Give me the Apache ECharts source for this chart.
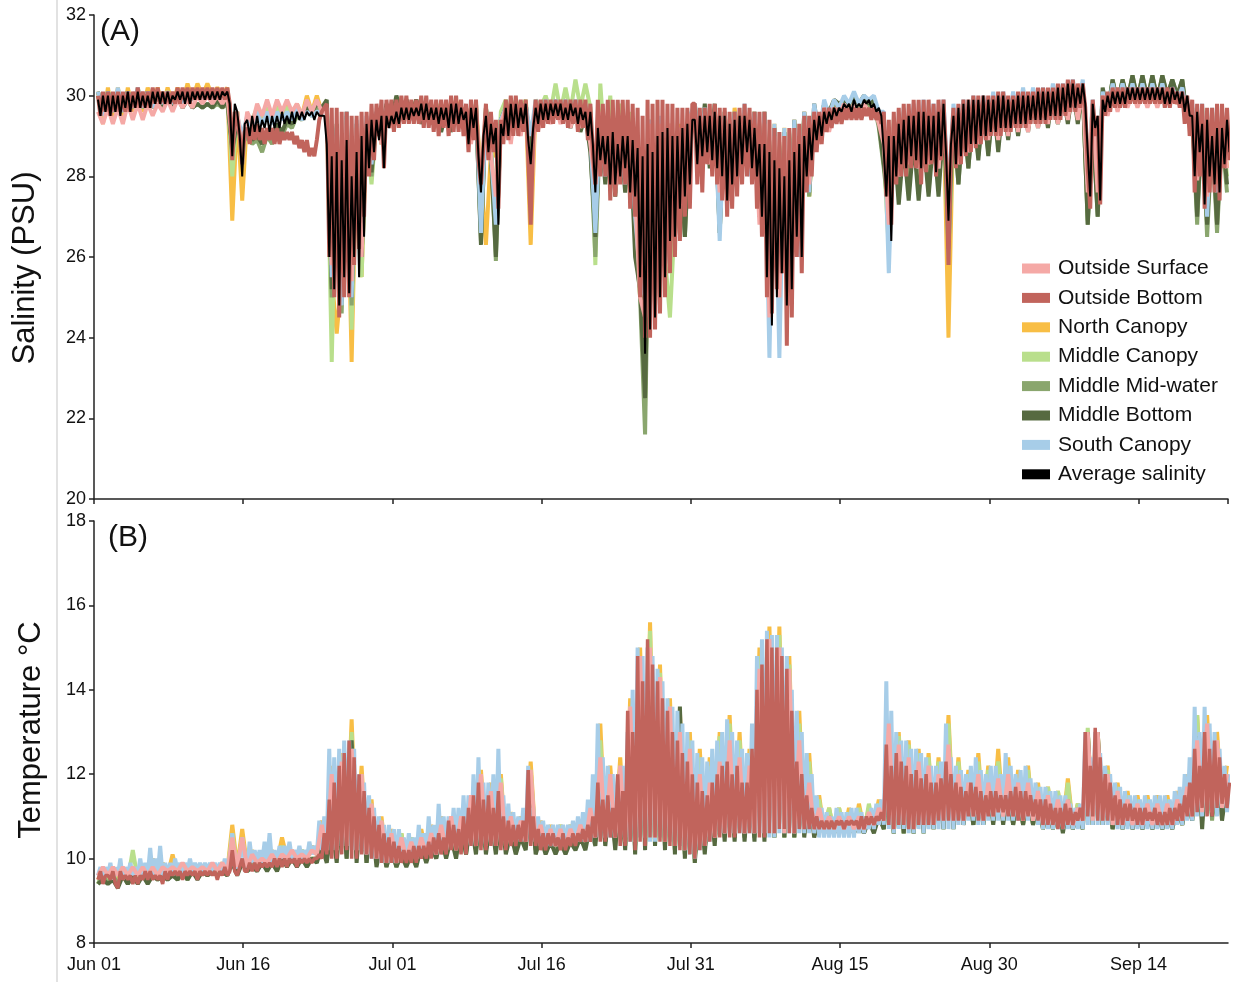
<!DOCTYPE html>
<html>
<head>
<meta charset="utf-8">
<script src="https://cdn.jsdelivr.net/npm/echarts@6/dist/echarts.min.js"></script>
<style>
  html, body { margin: 0; padding: 0; background: #fff; }
  #chart { width: 1233px; height: 982px; }
</style>
</head>
<body>
<div id="chart"></div>
<script>
// time in days since Jun 01; first sample and sampling steps
var T0 = 0.4;
var QUARTER = 0.25, HALF = 0.5;

var xTickLabels = ['Jun 01', 'Jun 16', 'Jul 01', 'Jul 16', 'Jul 31', 'Aug 15', 'Aug 30', 'Sep 14'];
var names = ['Outside Surface', 'Outside Bottom', 'North Canopy', 'Middle Canopy',
             'Middle Mid-water', 'Middle Bottom', 'South Canopy', 'Average salinity'];
var colors = {
    'Outside Surface': '#F5A9A6',
    'Outside Bottom': '#C1645C',
    'North Canopy': '#F8BE45',
    'Middle Canopy': '#B9DF8C',
    'Middle Mid-water': '#8AA66E',
    'Middle Bottom': '#566A40',
    'South Canopy': '#A7CDE8',
    'Average salinity': '#000000'
};

// ---- salinity (PSU), 6-hourly ----
var salAverage = [
 29.9,29.5,30.0,29.6, 30.0,29.5,30.0,29.6, 30.0,29.5,30.0,29.7, 30.1,29.6,30.0,29.7, 30.1,29.7,30.0,29.7,
 30.0,29.7,30.1,29.8, 30.1,29.8,30.1,29.8, 30.1,29.8,30.0,29.9, 30.1,29.9,30.1,29.8, 30.1,29.8,30.1,29.9,
 30.1,29.9,30.1,29.9, 30.1,29.9,30.1,29.9, 30.1,29.9,30.1,30.0, 30.1,29.8,28.5,29.8, 29.6,29.0,28.0,29.3,
 29.4,29.0,29.5,29.1, 29.5,29.1,29.4,29.2, 29.5,29.1,29.5,29.2, 29.5,29.2,29.6,29.3, 29.5,29.3,29.6,29.3,
 29.6,29.4,29.6,29.4, 29.6,29.5,29.6,29.4, 29.6,29.5,29.5,29.5, 28.8,26.0,28.5,25.2, 28.6,24.8,28.4,25.5,
 28.9,25.1,28.0,26.0, 28.6,25.5,29.0,26.5, 29.3,28.2,29.4,28.6, 29.4,28.9,29.5,28.2, 29.5,29.2,29.5,29.3,
 29.6,29.3,29.7,29.4, 29.7,29.4,29.7,29.5, 29.7,29.5,29.8,29.4, 29.8,29.4,29.7,29.4, 29.7,29.3,29.7,29.4,
 29.7,29.2,29.8,29.3, 29.8,29.3,29.7,29.4, 29.6,28.8,29.7,29.2, 29.7,28.5,27.6,29.0, 29.5,28.6,29.3,28.8,
 29.2,26.8,29.3,29.0, 29.7,29.0,29.8,29.2, 29.8,29.2,29.7,29.3, 29.8,28.9,28.3,29.2, 29.7,29.3,29.8,29.4,
 29.8,29.4,29.8,29.5, 29.8,29.5,29.8,29.4, 29.7,29.4,29.8,29.5, 29.7,29.3,29.7,29.4, 29.6,29.0,29.6,28.8,
 27.6,29.2,28.4,29.0, 28.3,29.0,27.8,29.1, 27.8,28.8,28.0,29.0, 28.2,29.0,27.6,28.9, 27.5,28.7,25.5,28.5,
 23.6,28.8,24.2,28.6, 24.5,29.0,25.0,29.1, 25.5,29.2,26.4,29.0, 26.5,29.0,27.2,29.2, 27.5,29.3,27.8,29.4,
 29.4,28.3,29.5,28.5, 29.5,28.6,29.5,28.4, 29.6,28.2,29.5,28.0, 29.5,27.4,29.3,27.8, 29.4,28.0,29.5,28.3,
 29.5,28.6,29.4,28.2, 29.2,28.0,28.8,27.0, 28.8,25.5,28.6,24.3, 28.4,25.0,28.2,25.6, 28.0,24.8,28.4,25.2,
 28.6,26.5,28.8,26.0, 29.0,28.0,29.2,28.4, 29.4,28.9,29.5,29.0, 29.6,29.3,29.6,29.4, 29.7,29.5,29.7,29.6,
 29.8,29.7,29.8,29.6, 29.9,29.7,29.8,29.7, 29.9,29.8,29.9,29.7, 29.8,29.6,29.7,29.5, 28.6,27.5,29.0,26.4,
 29.0,28.0,29.3,28.3, 29.4,28.2,29.5,28.5, 29.5,28.4,29.6,28.2, 29.6,28.3,29.5,28.4, 29.5,28.1,29.6,28.5,
 29.8,28.6,26.9,28.8, 29.5,28.3,29.7,28.5, 29.8,28.6,29.9,28.8, 29.9,28.8,29.9,29.0, 30.0,29.0,29.9,29.1,
 29.9,29.1,30.0,29.2, 30.0,29.2,29.9,29.2, 29.9,29.3,30.0,29.3, 30.0,29.3,30.0,29.4, 30.0,29.4,30.1,29.4,
 30.1,29.4,30.1,29.5, 30.1,29.5,30.2,29.5, 30.2,29.6,30.3,29.7, 30.3,29.7,30.2,29.8, 30.3,29.8,28.6,27.5,
 29.8,29.2,29.5,27.4, 29.9,29.6,30.0,29.7, 30.1,29.8,30.1,29.8, 30.1,29.8,30.2,29.9, 30.2,29.9,30.2,29.9,
 30.2,29.9,30.2,29.9, 30.2,29.9,30.2,29.9, 30.2,29.8,30.1,29.8, 30.2,29.9,30.1,29.8, 30.1,29.6,30.0,29.5,
 29.5,28.0,29.6,28.6, 29.3,27.3,29.4,28.0, 29.0,27.8,29.2,27.6, 29.2,28.3,29.4,28.6
];
var salOutsideBottom = [
 30.0,29.5,30.1,29.6, 30.1,29.5,30.1,29.6, 30.1,29.6,30.1,29.6, 30.1,29.6,30.1,29.7, 30.2,29.7,30.1,29.7,
 30.1,29.7,30.2,29.8, 30.2,29.8,30.1,29.8, 30.1,29.8,30.1,29.8, 30.2,29.8,30.2,29.9, 30.2,29.8,30.2,29.9,
 30.2,29.9,30.2,29.9, 30.2,29.9,30.2,29.9, 30.2,29.9,30.2,29.9, 30.2,29.8,28.4,29.6, 29.4,29.0,28.3,29.1,
 29.2,28.8,29.3,28.9, 29.3,28.9,29.2,28.8, 29.2,28.9,29.2,28.8, 29.2,28.8,29.1,28.9, 29.1,28.9,29.1,28.8,
 29.0,28.7,28.9,28.6, 28.9,28.5,28.7,28.5, 28.9,29.4,29.6,29.7, 29.8,26.0,29.7,25.0, 29.7,24.5,29.6,25.0,
 29.6,25.0,29.5,25.8, 29.5,26.2,29.6,27.0, 29.6,28.0,29.8,28.4, 29.8,29.0,29.9,28.2, 29.9,29.2,29.9,29.1,
 29.9,29.2,30.0,29.3, 30.0,29.3,29.9,29.3, 29.9,29.3,30.0,29.2, 30.0,29.2,29.9,29.1, 29.9,29.0,29.9,29.2,
 29.9,29.0,30.0,29.1, 30.0,29.1,29.9,29.0, 29.8,28.6,29.9,28.9, 29.9,28.4,27.8,28.8, 29.8,28.4,29.6,28.6,
 29.4,27.2,29.4,28.8, 29.9,28.9,30.0,29.0, 30.0,29.0,29.9,29.1, 29.9,28.5,26.8,29.0, 29.9,29.1,29.9,29.2,
 29.9,29.3,29.9,29.3, 29.9,29.4,29.9,29.3, 29.9,29.2,29.9,29.3, 29.9,29.1,29.9,29.2, 29.9,28.9,29.8,28.6,
 27.8,29.9,28.0,29.8, 28.0,29.9,27.4,29.9, 27.5,29.9,27.8,29.9, 27.8,29.9,27.2,29.8, 27.0,29.7,25.0,29.5,
 24.0,29.9,24.0,29.8, 24.2,29.9,24.6,29.9, 25.0,29.8,25.6,29.8, 26.0,29.7,26.4,29.7, 27.0,29.7,27.2,29.8,
 29.8,27.8,29.7,27.6, 29.7,28.3,29.8,28.0, 29.8,27.8,29.7,27.4, 29.7,27.0,29.6,27.2, 29.6,27.5,29.7,27.8,
 29.8,28.0,29.7,27.8, 29.6,27.2,29.6,26.5, 29.6,25.0,29.4,24.6, 29.2,25.2,29.1,25.6, 29.0,23.8,29.2,24.5,
 29.2,26.0,29.3,25.6, 29.5,27.6,29.5,28.0, 29.6,28.6,29.6,28.8, 29.7,29.1,29.7,29.2, 29.7,29.3,29.7,29.3,
 29.7,29.4,29.7,29.4, 29.7,29.4,29.7,29.4, 29.7,29.5,29.7,29.4, 29.7,29.4,29.6,29.3, 29.6,27.5,29.4,26.8,
 29.6,27.8,29.7,28.0, 29.8,28.0,29.8,28.2, 29.9,28.2,29.9,27.8, 29.9,28.1,29.9,28.3, 29.8,28.0,29.9,28.4,
 29.9,28.5,25.8,28.6, 29.7,28.2,29.8,28.3, 29.9,28.5,29.9,28.6, 30.0,28.7,30.0,28.8, 30.0,28.9,30.0,29.0,
 30.0,29.0,30.1,29.0, 30.1,29.1,30.0,29.1, 30.0,29.2,30.1,29.2, 30.1,29.2,30.1,29.3, 30.1,29.3,30.2,29.3,
 30.2,29.3,30.2,29.4, 30.2,29.4,30.3,29.4, 30.3,29.5,30.4,29.6, 30.4,29.6,30.3,29.7, 30.3,29.7,28.2,27.2,
 29.9,29.0,29.5,27.3, 30.0,29.5,30.1,29.6, 30.2,29.7,30.2,29.7, 30.2,29.7,30.2,29.8, 30.2,29.8,30.2,29.8,
 30.2,29.8,30.2,29.8, 30.2,29.8,30.2,29.8, 30.2,29.7,30.2,29.7, 30.2,29.8,30.1,29.7, 30.1,29.3,30.0,29.0,
 29.9,27.6,29.8,28.0, 29.8,27.2,29.7,27.6, 29.7,27.6,29.8,27.4, 29.8,28.2,29.7,28.4
];
// ---- salinity, 12-hourly ----
var salSouthCanopy = [
 30.1,29.5, 30.1,29.6, 30.2,29.6, 30.1,29.7, 30.2,29.7, 30.1,29.7, 30.1,29.8, 30.1,29.8, 30.1,29.8, 30.1,29.9,
 30.1,29.9, 30.1,29.9, 30.1,29.9, 30.1,29.0, 29.5,29.0, 29.5,29.2, 29.6,29.3, 29.6,29.3, 29.6,29.4, 29.6,29.4,
 29.7,29.4, 29.6,29.5, 29.6,29.6, 29.7,25.5, 29.2,24.8, 29.6,25.0, 29.4,26.5, 29.5,28.3, 29.6,29.0, 29.7,29.3,
 29.7,29.4, 29.8,29.4, 29.8,29.4, 29.8,29.4, 29.7,29.3, 29.7,29.3, 29.8,29.5, 29.7,29.0, 29.8,26.6, 29.6,28.6,
 26.8,29.4, 29.7,29.2, 29.8,29.4, 29.8,29.0, 29.9,29.4, 29.9,29.5, 29.9,29.5, 29.9,29.4, 29.9,29.4, 29.8,29.0,
 26.6,29.5, 28.0,29.4, 27.8,29.3, 27.8,29.2, 27.0,25.5, 25.0,29.4, 25.0,29.5, 25.8,29.3, 27.0,29.2, 27.8,29.5,
 29.8,28.5, 29.7,28.6, 29.6,26.4, 29.6,27.6, 29.6,28.0, 29.8,28.0, 29.6,27.0, 29.6,23.5, 29.3,23.5, 29.2,24.8,
 29.4,26.0, 29.6,27.6, 29.8,29.0, 29.9,29.5, 29.9,29.7, 30.0,29.8, 30.1,29.8, 30.0,29.9, 30.0,29.6, 29.6,25.6,
 29.4,28.0, 29.7,28.4, 29.8,28.2, 29.9,28.4, 29.8,28.2, 29.9,27.5, 29.8,28.4, 29.9,28.6, 30.0,28.8, 30.0,29.0,
 30.1,29.0, 30.1,29.2, 30.1,29.3, 30.2,29.3, 30.2,29.4, 30.2,29.4, 30.3,29.5, 30.3,29.6, 30.4,29.6, 30.4,27.8,
 29.9,27.8, 30.1,29.6, 30.3,29.8, 30.3,29.8, 30.3,29.8, 30.3,29.8, 30.3,29.8, 30.3,29.8, 30.2,29.9, 30.2,29.5,
 29.8,28.0, 29.8,27.0, 29.7,27.6, 29.6,28.4
];
var salOutsideSurface = [
 29.6,29.3, 29.7,29.3, 29.7,29.3, 29.8,29.4, 29.8,29.4, 29.8,29.5, 29.8,29.6, 29.9,29.6, 29.9,29.7, 29.9,29.7,
 30.0,29.8, 30.0,29.8, 30.0,29.8, 30.0,28.8, 29.6,28.6, 29.6,29.3, 29.8,29.5, 29.9,29.5, 29.9,29.6, 29.9,29.6,
 29.8,29.5, 29.9,29.6, 29.9,29.6, 29.6,25.8, 29.0,25.6, 29.4,25.4, 29.2,26.0, 29.3,28.5, 29.5,28.8, 29.6,29.2,
 29.8,29.5, 29.8,29.5, 29.8,29.4, 29.7,29.4, 29.7,29.4, 29.7,29.4, 29.8,29.2, 29.6,28.8, 29.7,27.8, 29.5,28.5,
 27.5,29.3, 29.7,28.8, 29.8,29.0, 29.8,27.2, 29.8,29.2, 29.8,29.3, 29.8,29.3, 29.8,29.2, 29.8,29.2, 29.6,28.8,
 27.8,29.6, 28.2,29.4, 27.6,29.3, 28.0,29.2, 27.5,25.0, 24.5,29.3, 24.8,29.3, 26.0,29.3, 26.8,29.2, 27.8,29.5,
 29.6,28.0, 29.5,28.3, 29.4,27.6, 29.4,27.4, 29.4,28.2, 29.5,28.2, 29.3,26.8, 29.3,24.5, 29.0,25.0, 29.0,24.8,
 29.2,26.4, 29.4,27.8, 29.6,28.8, 29.7,29.1, 29.7,29.5, 29.8,29.5, 29.8,29.5, 29.8,29.6, 29.7,29.3, 28.8,26.8,
 29.3,28.0, 29.4,28.3, 29.5,28.2, 29.6,28.3, 29.5,28.2, 29.6,27.5, 29.5,28.3, 29.6,28.6, 29.7,28.8, 29.8,28.9,
 29.9,28.9, 29.9,29.0, 29.9,29.1, 30.0,29.1, 30.0,29.2, 30.0,29.3, 30.1,29.3, 30.1,29.4, 30.2,29.4, 30.2,27.6,
 29.8,27.6, 30.0,29.5, 30.1,29.6, 30.1,29.7, 30.1,29.7, 30.1,29.7, 30.1,29.7, 30.1,29.8, 30.1,29.8, 30.0,29.4,
 29.7,27.9, 29.6,27.5, 29.4,27.8, 29.5,28.2
];
var salNorthCanopy = [
 30.1,29.3, 30.2,29.4, 30.2,29.4, 30.2,29.6, 30.2,29.6, 30.2,29.7, 30.2,29.7, 30.2,29.8, 30.2,29.8, 30.3,29.9,
 30.3,30.0, 30.3,30.0, 30.2,30.0, 30.2,26.9, 29.6,27.4, 29.5,29.3, 29.7,29.4, 29.7,29.4, 29.8,29.5, 29.8,29.5,
 29.8,29.5, 30.0,29.6, 30.0,29.6, 29.8,25.5, 24.1,25.5, 29.0,23.4, 28.8,25.5, 29.2,28.0, 29.5,28.8, 29.6,29.3,
 29.7,29.5, 29.8,29.5, 29.8,29.5, 29.8,29.4, 29.8,29.4, 29.8,29.4, 29.9,29.4, 29.7,29.0, 29.8,28.0, 26.3,28.6,
 28.5,29.4, 29.7,29.0, 29.8,29.3, 29.8,26.3, 29.8,29.4, 29.8,29.5, 29.9,29.5, 29.8,29.4, 29.8,29.4, 29.7,29.0,
 27.5,29.6, 28.2,29.5, 27.8,29.5, 28.0,29.4, 27.5,25.0, 25.0,29.4, 25.2,29.4, 26.0,29.3, 27.0,29.3, 28.0,29.5,
 29.7,28.6, 29.6,28.6, 29.6,27.5, 29.6,27.8, 29.7,28.6, 29.7,28.6, 29.6,27.0, 29.6,24.6, 29.3,25.2, 29.2,25.0,
 29.4,26.5, 29.6,27.5, 29.7,29.0, 29.8,29.4, 29.8,29.6, 29.9,29.6, 29.9,29.7, 29.9,29.7, 29.8,29.5, 28.8,26.5,
 29.4,28.2, 29.6,28.4, 29.7,28.3, 29.7,28.5, 29.7,28.5, 29.8,24.0, 29.6,28.0, 29.8,28.6, 29.9,28.8, 29.9,29.0,
 30.0,29.1, 30.0,29.2, 30.0,29.3, 30.1,29.3, 30.1,29.4, 30.1,29.4, 30.2,29.5, 30.2,29.6, 30.3,29.6, 30.2,27.8,
 29.8,27.8, 30.0,29.6, 30.2,29.7, 30.2,29.8, 30.2,29.8, 30.2,29.8, 30.2,29.8, 30.2,29.8, 30.2,29.8, 30.1,29.5,
 29.7,28.0, 29.7,27.4, 29.6,27.6, 29.5,28.2
];
var salMiddleCanopy = [
 30.0,29.5, 30.1,29.6, 30.1,29.6, 30.1,29.7, 30.1,29.7, 30.1,29.7, 30.1,29.8, 30.1,29.8, 30.1,29.8, 30.1,29.9,
 30.1,29.9, 30.1,29.9, 30.1,29.9, 30.1,28.0, 29.6,28.3, 29.5,29.4, 29.7,29.5, 29.7,29.5, 29.7,29.6, 29.7,29.6,
 29.7,29.6, 29.7,29.7, 29.8,29.7, 29.7,23.4, 29.0,24.8, 29.3,24.2, 29.0,25.5, 29.2,27.8, 29.4,28.8, 29.5,29.3,
 29.6,29.5, 29.7,29.5, 29.7,29.5, 29.8,29.5, 29.8,29.5, 29.8,29.5, 29.8,29.6, 29.7,29.2, 29.8,27.5, 29.7,28.8,
 27.0,29.6, 29.9,29.4, 29.9,29.6, 29.9,28.5, 29.9,29.7, 30.0,29.6, 30.3,29.6, 30.2,29.6, 30.4,29.7, 30.3,29.7,
 25.8,30.3, 28.5,30.0, 28.0,29.8, 27.8,29.6, 27.0,25.5, 22.3,29.4, 25.0,29.4, 26.0,24.5, 27.0,29.0, 27.5,29.5,
 29.7,28.6, 29.6,28.5, 29.5,27.8, 29.5,27.6, 29.5,28.5, 29.5,28.5, 29.5,27.0, 29.5,25.5, 29.2,25.8, 29.1,25.5,
 29.3,26.8, 29.5,27.5, 29.6,29.0, 29.8,29.4, 29.8,29.6, 29.8,29.6, 29.8,29.7, 29.8,29.7, 29.8,29.4, 28.5,26.2,
 29.3,28.0, 29.5,28.0, 29.6,28.2, 29.6,28.0, 29.6,28.0, 29.7,26.0, 29.5,28.0, 29.6,28.4, 29.7,28.7, 29.8,28.9,
 29.9,29.0, 29.9,29.1, 29.9,29.2, 30.0,29.2, 30.0,29.3, 30.0,29.3, 30.1,29.4, 30.1,29.5, 30.2,29.5, 30.1,26.9,
 29.6,27.2, 30.0,29.6, 30.2,29.8, 30.2,29.8, 30.2,29.9, 30.2,29.9, 30.2,29.9, 30.2,30.0, 30.2,30.0, 30.1,29.5,
 29.7,27.2, 29.7,26.8, 29.4,27.2, 29.4,28.0
];
var salMiddleMid = [
 30.0,29.6, 30.0,29.6, 30.0,29.6, 30.1,29.7, 30.1,29.7, 30.0,29.7, 30.0,29.7, 30.0,29.7, 30.0,29.7, 29.9,29.7,
 29.8,29.7, 29.8,29.7, 29.8,29.7, 29.8,28.6, 29.3,28.8, 29.0,28.8, 28.9,28.6, 29.0,28.8, 29.2,29.0, 29.3,29.2,
 29.5,29.4, 29.6,29.5, 29.7,29.6, 29.8,25.0, 29.2,24.6, 29.5,24.8, 29.2,26.0, 29.2,28.0, 29.5,29.0, 29.7,29.4,
 29.9,29.6, 29.9,29.5, 29.9,29.4, 29.8,29.4, 29.6,29.2, 29.6,29.2, 29.7,29.5, 29.6,29.0, 29.7,26.4, 29.6,28.6,
 25.9,29.4, 29.6,29.2, 29.8,29.4, 29.8,28.6, 29.7,29.5, 29.8,29.5, 29.8,29.5, 29.7,29.3, 29.7,29.2, 29.5,28.8,
 26.0,29.3, 28.0,29.2, 27.6,29.1, 27.8,29.0, 26.5,25.0, 21.6,29.0, 24.8,29.0, 25.8,28.8, 26.5,28.8, 26.5,29.3,
 29.7,28.5, 29.6,28.4, 29.6,26.6, 29.5,27.5, 29.5,28.2, 29.5,28.2, 29.5,27.0, 29.5,25.5, 29.1,25.8, 29.0,25.8,
 29.3,26.5, 29.5,27.5, 29.7,29.0, 29.8,29.5, 29.8,29.7, 29.9,29.7, 29.9,29.7, 29.9,29.7, 29.8,29.2, 28.2,27.0,
 29.2,27.5, 29.3,27.6, 29.4,27.8, 29.4,27.6, 29.5,27.8, 29.6,26.2, 29.5,27.8, 29.5,28.2, 29.6,28.5, 29.7,28.6,
 29.8,28.8, 29.8,29.0, 29.8,29.1, 29.9,29.2, 29.9,29.3, 29.9,29.3, 30.0,29.3, 30.0,29.4, 30.1,29.4, 30.2,26.8,
 29.4,27.0, 30.1,29.6, 30.4,29.8, 30.4,29.9, 30.5,29.9, 30.5,29.9, 30.5,29.9, 30.5,30.0, 30.4,30.0, 30.4,29.4,
 29.5,26.8, 29.5,26.5, 29.0,26.6, 29.0,27.6
];
var salMiddleBottom = [
 30.1,29.6, 30.1,29.7, 30.1,29.7, 30.1,29.7, 30.1,29.7, 30.1,29.7, 30.1,29.7, 30.0,29.7, 30.0,29.7, 29.9,29.7,
 29.8,29.7, 29.8,29.7, 29.9,29.7, 29.9,28.7, 29.4,28.9, 29.2,28.9, 29.0,28.8, 29.1,29.0, 29.3,29.1, 29.4,29.3,
 29.6,29.5, 29.7,29.6, 29.8,29.7, 29.9,25.2, 29.3,24.9, 29.6,25.0, 29.3,26.0, 29.3,28.1, 29.6,29.0, 29.8,29.4,
 30.0,29.6, 29.9,29.5, 29.9,29.3, 29.8,29.3, 29.6,29.1, 29.6,29.1, 29.7,29.4, 29.6,29.0, 29.7,26.3, 29.7,28.6,
 26.0,29.4, 29.7,29.2, 29.8,29.4, 29.8,28.6, 29.7,29.4, 29.8,29.4, 29.8,29.4, 29.7,29.2, 29.7,29.1, 29.5,28.6,
 26.5,29.3, 27.8,29.2, 27.5,29.1, 27.6,29.0, 26.0,25.2, 22.5,29.0, 25.0,29.0, 25.8,28.6, 26.5,28.6, 26.5,29.2,
 29.8,28.4, 29.8,28.2, 29.8,26.6, 29.6,27.4, 29.6,28.1, 29.6,28.1, 29.6,27.0, 29.6,25.8, 29.2,26.0, 29.1,26.0,
 29.4,26.8, 29.6,27.6, 29.8,29.0, 29.8,29.6, 29.9,29.8, 29.9,29.8, 30.0,29.8, 30.0,29.8, 29.9,29.3, 28.3,27.3,
 29.0,27.3, 28.8,27.4, 28.9,27.4, 28.9,27.5, 29.0,27.5, 29.4,27.0, 29.4,27.8, 29.6,28.2, 29.7,28.4, 29.8,28.5,
 29.9,28.6, 29.9,28.9, 29.9,29.0, 29.9,29.1, 30.0,29.2, 30.0,29.2, 30.1,29.3, 30.1,29.3, 30.2,29.3, 30.2,26.8,
 29.3,27.0, 30.2,29.6, 30.4,29.8, 30.4,29.9, 30.5,29.9, 30.5,29.9, 30.5,29.9, 30.5,30.0, 30.4,30.0, 30.4,29.4,
 29.6,27.0, 29.4,26.8, 29.2,26.8, 29.2,27.8
];

// ---- temperature (°C), 6-hourly ----
var tmpOutsideBottom = [
 9.5,9.7,9.4,9.6, 9.6,9.5,9.7,9.4, 9.3,9.7,9.5,9.6, 9.5,9.6,9.4,9.6, 9.4,9.6,9.5,9.7,
 9.5,9.7,9.5,9.6, 9.5,9.6,9.4,9.7, 9.5,9.7,9.6,9.7, 9.6,9.7,9.5,9.7, 9.6,9.7,9.6,9.7,
 9.5,9.7,9.6,9.7, 9.6,9.7,9.6,9.7, 9.5,9.7,9.6,9.8, 9.6,9.7,10.2,9.7, 9.6,9.8,10.0,9.7,
 9.7,9.9,9.7,9.9, 9.7,9.9,9.8,9.9, 9.8,9.9,9.8,10.0, 9.8,10.0,9.8,10.0, 9.8,10.0,9.9,10.0,
 9.8,10.0,9.9,10.0, 9.9,10.0,9.9,10.0, 10.0,10.1,10.0,10.6, 10.1,11.4,10.0,11.8, 10.0,12.2,10.1,12.5,
 10.2,12.8,10.0,12.4, 10.0,12.0,10.1,11.6, 10.1,11.2,10.0,11.0, 10.0,10.8,9.9,10.6, 9.9,10.5,9.9,10.4,
 9.9,10.3,9.9,10.2, 9.9,10.2,9.9,10.3, 9.9,10.3,10.0,10.3, 10.0,10.4,10.0,10.5, 10.1,10.6,10.1,10.5,
 10.1,10.9,10.2,10.8, 10.2,10.7,10.1,11.0, 10.1,11.2,10.3,11.5, 10.3,11.8,10.2,11.4, 10.2,11.5,10.3,11.2,
 10.3,11.6,10.2,11.0, 10.2,10.9,10.3,10.8, 10.3,10.8,10.4,10.9, 10.4,12.1,10.3,11.0, 10.3,10.7,10.2,10.6,
 10.2,10.6,10.3,10.6, 10.3,10.5,10.2,10.6, 10.2,10.5,10.3,10.6, 10.3,10.6,10.4,10.7, 10.4,10.8,10.4,11.0,
 10.5,11.8,10.4,11.4, 10.4,11.5,10.5,11.2, 10.5,12.0,10.3,11.6, 10.3,13.5,10.4,13.0, 10.2,14.8,10.4,14.2,
 10.3,15.2,10.5,14.6, 10.5,14.2,10.4,13.8, 10.4,13.5,10.3,13.0, 10.3,12.8,10.2,12.5, 10.2,12.3,10.1,12.0,
 10.0,11.8,10.2,11.6, 10.3,11.5,10.4,11.8, 10.5,12.0,10.5,12.2, 10.6,12.3,10.5,12.0, 10.5,12.2,10.6,11.8,
 10.6,11.8,10.6,12.6, 10.6,14.0,10.5,14.6, 10.5,15.2,10.6,15.0, 10.6,15.0,10.7,14.8, 10.7,14.5,10.6,13.5,
 10.6,12.3,10.7,12.0, 10.7,11.5,10.7,11.2, 10.7,11.0,10.7,10.9, 10.7,10.9,10.7,10.9, 10.7,10.9,10.8,10.9,
 10.7,10.9,10.8,10.9, 10.8,10.9,10.7,11.0, 10.7,11.0,10.8,11.0, 10.8,11.0,10.9,11.1, 10.9,12.7,10.8,12.2,
 10.7,12.5,10.8,12.3, 10.8,12.2,10.7,12.0, 10.7,12.1,10.8,11.9, 10.8,12.0,10.8,11.8, 10.8,11.8,10.9,11.9,
 10.9,12.3,10.9,12.0, 10.9,11.8,10.9,11.7, 10.9,11.6,11.0,11.8, 11.0,11.7,10.9,11.6, 10.9,11.5,11.0,11.6,
 11.0,11.6,11.1,11.5, 11.1,11.5,11.0,11.6, 11.0,11.7,10.9,11.6, 10.9,11.6,11.0,11.5, 11.0,11.4,10.9,11.4,
 10.8,11.4,10.8,11.3, 10.8,11.2,10.7,11.2, 10.7,11.3,10.8,11.2, 10.8,11.1,10.9,11.2, 10.9,13.0,11.0,12.2,
 11.0,13.1,10.9,12.4, 10.9,12.0,10.9,11.8, 10.9,11.5,10.8,11.4, 10.8,11.3,10.9,11.3, 10.9,11.2,10.8,11.2,
 10.8,11.2,10.9,11.1, 10.9,11.2,10.8,11.1, 10.8,11.1,10.8,11.2, 10.8,11.2,10.9,11.3, 10.9,11.5,11.0,11.8,
 11.0,12.6,11.1,12.2, 11.2,13.0,11.0,12.6, 11.0,12.8,11.2,12.4, 11.3,12.0,11.2,11.8
];
var tmpSouthCanopy = [
 9.6,9.8,9.5,9.8, 9.6,9.9,9.5,9.8, 9.6,10.0,9.5,9.8, 9.6,9.9,9.6,9.8, 9.6,10.0,9.6,9.9,
 9.6,10.25,9.6,10.0, 9.6,10.3,9.6,9.9, 9.6,9.9,9.6,10.0, 9.7,9.9,9.6,9.9, 9.7,10.0,9.7,9.9,
 9.7,9.9,9.7,9.9, 9.7,9.9,9.7,9.9, 9.7,9.9,9.7,10.0, 9.7,9.9,10.6,9.8, 9.8,10.0,10.5,9.9,
 9.8,10.4,9.9,10.2, 9.9,10.2,9.9,10.4, 9.9,10.6,9.9,10.2, 9.9,10.3,10.0,10.3, 10.0,10.4,10.0,10.2,
 10.0,10.3,10.0,10.2, 10.0,10.4,10.1,10.3, 10.1,10.9,10.2,11.0, 10.3,12.6,10.2,12.4, 10.2,12.6,10.3,12.8,
 10.5,12.8,10.2,12.6, 10.2,12.0,10.2,11.8, 10.1,11.5,10.0,11.2, 10.0,11.0,9.9,10.8, 9.9,10.8,9.9,10.7,
 9.9,10.7,10.0,10.5, 10.0,10.6,10.0,10.5, 10.0,10.8,10.1,10.6, 10.1,11.0,10.1,10.8, 10.1,11.3,10.2,11.0,
 10.2,11.0,10.3,11.2, 10.3,11.2,10.3,11.5, 10.3,11.5,10.3,12.0, 10.3,12.4,10.3,11.8, 10.3,11.8,10.4,12.0,
 10.3,12.6,10.4,11.5, 10.4,11.3,10.4,11.1, 10.4,11.0,10.4,11.2, 10.4,12.2,10.4,11.2, 10.4,11.0,10.3,10.9,
 10.3,10.8,10.3,10.8, 10.3,10.8,10.3,10.8, 10.3,10.8,10.4,10.9, 10.4,11.0,10.4,11.1, 10.4,11.4,10.4,12.0,
 10.5,13.2,10.5,12.4, 10.5,12.2,10.5,12.0, 10.6,12.0,10.5,12.2, 10.5,13.0,10.4,14.0, 10.4,15.0,10.5,14.8,
 10.5,15.0,10.4,14.8, 10.4,14.5,10.5,14.2, 10.5,13.8,10.4,13.6, 10.3,13.5,10.3,13.2, 10.2,13.0,10.1,12.8,
 10.0,12.5,10.2,12.4, 10.3,12.3,10.4,12.6, 10.6,12.8,10.6,13.0, 10.6,13.3,10.6,13.0, 10.6,12.8,10.6,12.6,
 10.6,12.5,10.6,13.2, 10.6,14.8,10.6,15.2, 10.6,15.4,10.5,15.3, 10.5,15.3,10.6,15.0, 10.6,14.8,10.6,14.0,
 10.6,13.5,10.6,13.0, 10.6,12.5,10.6,12.0, 10.6,11.5,10.5,11.2, 10.5,11.1,10.5,11.0, 10.5,11.2,10.5,11.1,
 10.5,11.1,10.5,11.2, 10.5,11.2,10.6,11.1, 10.6,11.0,10.7,11.2, 10.7,11.3,10.8,11.4, 10.8,14.2,10.7,13.5,
 10.6,13.0,10.7,12.8, 10.7,12.8,10.6,12.6, 10.6,12.6,10.7,12.5, 10.6,12.4,10.7,12.2, 10.7,12.2,10.7,12.3,
 10.7,13.2,10.7,12.4, 10.7,12.2,10.8,12.1, 10.8,12.0,10.9,12.2, 10.9,12.4,10.8,12.1, 10.8,12.0,10.9,12.2,
 10.9,12.2,10.9,12.0, 10.9,12.5,10.9,12.2, 10.9,12.0,10.9,12.1, 10.9,12.2,10.9,11.9, 10.9,11.8,10.8,11.7,
 10.7,11.7,10.7,11.6, 10.7,11.6,10.7,11.5, 10.7,11.5,10.7,11.3, 10.7,11.2,10.7,11.3, 10.7,13.0,10.8,12.4,
 10.8,13.0,10.8,12.5, 10.8,12.2,10.8,12.0, 10.8,11.8,10.7,11.7, 10.7,11.6,10.7,11.5, 10.7,11.5,10.7,11.4,
 10.7,11.5,10.7,11.4, 10.7,11.5,10.7,11.5, 10.7,11.5,10.7,11.4, 10.7,11.6,10.8,11.7, 10.8,12.0,10.9,12.4,
 10.9,13.6,11.0,13.0, 11.0,13.6,11.1,13.2, 11.1,13.0,11.0,12.6, 11.2,12.2,11.1,12.0
];
// ---- temperature, 12-hourly ----
var tmpOutsideSurface = [
 9.6,9.8, 9.6,9.8, 9.6,9.8, 9.6,9.8, 9.6,9.8, 9.6,9.8, 9.6,9.8, 9.7,9.8, 9.7,9.9, 9.7,9.8,
 9.7,9.8, 9.7,9.9, 9.7,9.9, 9.7,10.5, 9.8,10.5, 9.8,10.1, 9.9,10.0, 9.9,10.1, 9.9,10.1, 10.0,10.2,
 10.0,10.1, 10.0,10.2, 10.1,10.8, 10.2,12.0, 10.2,12.3, 10.3,12.6, 10.2,12.0, 10.1,11.3, 10.0,10.9, 9.9,10.6,
 9.9,10.5, 10.0,10.4, 10.0,10.5, 10.1,10.6, 10.1,10.8, 10.2,11.0, 10.2,11.0, 10.3,11.5, 10.3,12.0, 10.3,11.6,
 10.3,11.8, 10.3,11.0, 10.4,10.9, 10.4,12.1, 10.4,10.8, 10.3,10.7, 10.3,10.7, 10.3,10.7, 10.4,10.8, 10.4,11.2,
 10.5,12.4, 10.5,12.0, 10.5,12.2, 10.4,13.6, 10.4,14.8, 10.5,15.0, 10.5,14.3, 10.4,13.6, 10.3,13.0, 10.2,12.6,
 10.1,12.0, 10.3,11.8, 10.5,12.3, 10.6,12.8, 10.6,12.4, 10.6,12.2, 10.6,14.5, 10.6,15.2, 10.6,15.0, 10.6,14.5,
 10.6,12.8, 10.7,11.8, 10.7,11.2, 10.7,11.0, 10.7,11.0, 10.7,11.0, 10.7,11.0, 10.7,11.1, 10.8,11.2, 10.9,13.2,
 10.7,12.7, 10.8,12.4, 10.7,12.3, 10.8,12.2, 10.8,12.0, 10.9,12.7, 10.9,12.0, 10.9,11.8, 11.0,12.0, 10.9,11.8,
 11.0,11.9, 11.0,12.0, 11.0,11.8, 10.9,11.8, 10.9,11.6, 10.8,11.5, 10.8,11.4, 10.8,11.4, 10.8,11.2, 10.9,13.0,
 10.9,13.0, 10.9,12.0, 10.8,11.6, 10.8,11.4, 10.8,11.3, 10.8,11.3, 10.8,11.3, 10.8,11.3, 10.8,11.4, 10.9,11.7,
 11.0,12.8, 11.1,13.2, 11.1,12.8, 11.2,12.0
];
var tmpNorthCanopy = [
 9.5,9.7, 9.5,9.8, 9.5,9.7, 9.5,9.8, 9.5,9.8, 9.6,10.0, 9.6,9.9, 9.6,10.1, 9.6,9.9, 9.6,9.8,
 9.7,9.8, 9.7,9.8, 9.7,9.9, 9.7,10.8, 9.8,10.7, 9.8,10.2, 9.9,10.1, 9.9,10.2, 9.9,10.5, 10.0,10.2,
 10.0,10.2, 10.0,10.3, 10.1,10.9, 10.2,12.2, 10.2,12.5, 10.3,13.3, 10.2,12.2, 10.1,11.4, 10.0,11.0, 9.9,10.7,
 9.9,10.6, 10.0,10.5, 10.0,10.7, 10.1,10.8, 10.1,11.0, 10.2,11.0, 10.2,11.1, 10.3,11.4, 10.3,12.1, 10.3,11.8,
 10.3,12.0, 10.3,11.1, 10.4,11.0, 10.4,12.3, 10.4,10.9, 10.3,10.8, 10.3,10.8, 10.3,10.8, 10.4,10.9, 10.4,11.3,
 10.5,13.2, 10.5,12.2, 10.5,12.4, 10.4,13.8, 10.4,15.0, 10.5,15.6, 10.4,14.6, 10.4,13.8, 10.3,13.5, 10.2,13.0,
 10.0,12.6, 10.3,12.4, 10.5,13.0, 10.6,13.4, 10.6,13.0, 10.6,12.6, 10.6,15.0, 10.6,15.5, 10.5,15.5, 10.6,14.8,
 10.6,13.5, 10.6,12.5, 10.6,11.5, 10.6,11.2, 10.6,11.2, 10.6,11.2, 10.6,11.3, 10.7,11.2, 10.8,11.4, 10.8,13.2,
 10.7,13.0, 10.7,12.8, 10.7,12.6, 10.7,12.5, 10.7,12.4, 10.8,13.4, 10.8,12.4, 10.9,12.1, 10.9,12.5, 10.9,12.2,
 11.0,12.6, 11.0,12.4, 10.9,12.1, 10.9,12.2, 10.9,11.8, 10.8,11.7, 10.8,11.6, 10.8,11.9, 10.8,11.3, 10.8,13.0,
 10.9,13.0, 10.8,12.2, 10.8,11.8, 10.8,11.6, 10.8,11.5, 10.8,11.5, 10.8,11.5, 10.8,11.5, 10.8,11.6, 10.9,12.0,
 11.0,13.4, 11.1,13.4, 11.1,13.0, 11.2,12.2
];
var tmpMiddleCanopy = [
 9.4,9.7, 9.4,9.7, 9.4,9.7, 9.5,10.2, 9.5,9.7, 9.5,9.8, 9.5,9.8, 9.6,9.8, 9.6,9.8, 9.6,9.8,
 9.6,9.8, 9.7,9.8, 9.7,9.9, 9.7,10.6, 9.8,10.5, 9.8,10.1, 9.8,10.0, 9.9,10.1, 9.9,10.3, 10.0,10.1,
 10.0,10.2, 10.0,10.2, 10.1,10.8, 10.1,11.8, 10.1,12.3, 10.2,13.0, 10.1,12.0, 10.0,11.3, 9.9,10.9, 9.9,10.6,
 9.8,10.6, 9.9,10.5, 10.0,10.6, 10.0,10.7, 10.1,10.9, 10.1,10.9, 10.2,11.0, 10.2,11.3, 10.2,11.9, 10.2,11.6,
 10.2,11.9, 10.3,11.0, 10.3,10.9, 10.3,12.1, 10.3,10.8, 10.2,10.7, 10.2,10.8, 10.3,10.8, 10.3,10.9, 10.3,11.2,
 10.4,12.8, 10.4,12.0, 10.4,12.2, 10.3,13.6, 10.3,14.8, 10.4,15.4, 10.3,14.4, 10.3,13.6, 10.2,13.2, 10.1,12.8,
 9.9,12.4, 10.2,12.2, 10.4,12.9, 10.5,13.2, 10.5,12.8, 10.5,12.4, 10.5,14.8, 10.5,15.2, 10.5,15.3, 10.5,14.6,
 10.5,13.2, 10.6,12.3, 10.6,11.4, 10.6,11.2, 10.6,11.2, 10.6,11.1, 10.6,11.2, 10.6,11.3, 10.7,11.3, 10.7,12.8,
 10.6,12.9, 10.6,12.7, 10.6,12.5, 10.6,12.4, 10.7,12.3, 10.7,13.2, 10.7,12.3, 10.8,12.0, 10.8,12.3, 10.8,12.1,
 10.9,12.3, 10.9,12.2, 10.8,11.9, 10.8,12.1, 10.8,11.7, 10.7,11.7, 10.7,11.6, 10.7,11.8, 10.7,11.3, 10.7,13.1,
 10.8,13.0, 10.8,12.1, 10.7,11.7, 10.7,11.5, 10.7,11.4, 10.7,11.4, 10.7,11.4, 10.7,11.4, 10.7,11.5, 10.8,11.9,
 10.9,13.4, 11.0,13.2, 11.0,12.8, 11.1,12.0
];
var tmpMiddleMid = [
 9.4,9.6, 9.4,9.6, 9.4,9.6, 9.4,9.6, 9.5,9.6, 9.5,9.6, 9.5,9.6, 9.5,9.7, 9.5,9.7, 9.5,9.7,
 9.6,9.7, 9.6,9.7, 9.6,9.7, 9.6,10.0, 9.7,9.9, 9.7,9.9, 9.8,9.9, 9.8,9.9, 9.8,10.0, 9.9,10.0,
 9.9,10.0, 9.9,10.0, 10.0,10.4, 10.0,11.0, 10.0,11.6, 10.0,12.2, 10.0,11.5, 9.9,11.0, 9.9,10.5, 9.8,10.3,
 9.8,10.2, 9.9,10.2, 9.9,10.3, 10.0,10.4, 10.0,10.6, 10.1,10.6, 10.1,10.8, 10.1,11.0, 10.2,11.5, 10.2,11.2,
 10.2,11.3, 10.2,10.7, 10.2,10.6, 10.3,11.6, 10.2,10.6, 10.2,10.5, 10.2,10.5, 10.2,10.5, 10.3,10.6, 10.3,10.9,
 10.4,11.8, 10.4,11.6, 10.3,11.8, 10.3,13.2, 10.2,14.0, 10.3,14.8, 10.4,13.8, 10.3,13.2, 10.2,12.6, 10.1,12.2,
 10.0,11.8, 10.2,11.8, 10.4,12.3, 10.5,12.6, 10.5,12.3, 10.5,12.0, 10.5,14.2, 10.5,14.8, 10.5,14.8, 10.5,14.0,
 10.5,12.5, 10.6,11.6, 10.6,11.1, 10.6,11.0, 10.6,11.0, 10.6,11.0, 10.6,11.0, 10.6,11.0, 10.7,11.1, 10.7,12.4,
 10.6,12.4, 10.6,12.2, 10.6,12.1, 10.7,12.0, 10.7,11.9, 10.7,12.6, 10.8,11.9, 10.8,11.7, 10.8,11.9, 10.8,11.7,
 10.9,11.9, 10.9,11.8, 10.8,11.7, 10.8,11.7, 10.8,11.5, 10.7,11.4, 10.7,11.3, 10.7,11.4, 10.7,11.2, 10.7,12.8,
 10.8,12.9, 10.8,11.8, 10.7,11.4, 10.7,11.3, 10.7,11.2, 10.7,11.2, 10.7,11.2, 10.7,11.2, 10.7,11.3, 10.8,11.6,
 10.9,12.9, 10.9,12.8, 10.9,12.4, 11.0,11.8
];
var tmpMiddleBottom = [
 9.4,9.5, 9.4,9.5, 9.3,9.6, 9.4,9.6, 9.4,9.6, 9.4,9.6, 9.5,9.6, 9.5,9.6, 9.5,9.7, 9.5,9.7,
 9.5,9.7, 9.6,9.7, 9.6,9.7, 9.6,9.9, 9.6,9.9, 9.7,9.8, 9.7,9.9, 9.7,9.9, 9.7,10.0, 9.8,10.0,
 9.8,10.0, 9.8,10.0, 9.9,10.3, 9.9,10.8, 9.9,11.5, 10.0,12.8, 9.9,11.4, 9.9,11.0, 9.8,10.4, 9.8,10.2,
 9.8,10.1, 9.8,10.1, 9.8,10.3, 9.9,10.3, 10.0,10.5, 10.0,10.5, 10.0,10.8, 10.1,10.9, 10.1,11.4, 10.1,11.0,
 10.1,11.2, 10.1,10.6, 10.1,10.5, 10.2,11.5, 10.1,10.5, 10.1,10.4, 10.1,10.4, 10.1,10.4, 10.2,10.5, 10.2,10.8,
 10.3,11.6, 10.3,11.5, 10.2,11.7, 10.2,13.0, 10.1,13.8, 10.2,14.6, 10.3,13.6, 10.2,13.2, 10.1,13.6, 10.0,12.0,
 9.9,11.6, 10.1,11.7, 10.3,12.2, 10.4,12.5, 10.4,12.3, 10.4,12.0, 10.4,14.0, 10.4,14.5, 10.5,14.6, 10.5,13.8,
 10.5,12.6, 10.5,11.6, 10.5,11.0, 10.6,10.9, 10.6,10.9, 10.6,10.9, 10.6,10.9, 10.6,10.9, 10.6,11.0, 10.7,12.3,
 10.6,12.3, 10.6,12.1, 10.6,12.0, 10.6,11.9, 10.7,11.8, 10.7,12.5, 10.7,11.8, 10.8,11.6, 10.8,11.8, 10.8,11.7,
 10.8,11.8, 10.8,11.7, 10.8,11.6, 10.8,11.6, 10.8,11.5, 10.7,11.3, 10.7,11.3, 10.6,11.3, 10.7,11.1, 10.7,13.0,
 10.8,13.0, 10.8,11.7, 10.7,11.3, 10.7,11.2, 10.7,11.1, 10.7,11.1, 10.7,11.1, 10.7,11.1, 10.7,11.2, 10.8,11.5,
 10.9,12.8, 10.7,12.6, 11.0,12.4, 10.9,11.8
];

function pairs(values, step) {
    return values.map(function (v, i) { return [T0 + i * step, v]; });
}

var font = 'Liberation Sans, Arial, Helvetica, sans-serif';

function line(name, values, step, axis, width) {
    return {
        name: name,
        type: 'line',
        xAxisIndex: axis,
        yAxisIndex: axis,
        data: pairs(values, step),
        showSymbol: false,
        symbol: 'none',
        animation: false,
        lineStyle: { color: colors[name], width: width },
        itemStyle: { color: colors[name] },
        emphasis: { disabled: true }
    };
}

var series = [
    // salinity, bottom layer first
    line('North Canopy', salNorthCanopy, HALF, 0, 4),
    line('Middle Canopy', salMiddleCanopy, HALF, 0, 4),
    line('Middle Mid-water', salMiddleMid, HALF, 0, 4),
    line('Middle Bottom', salMiddleBottom, HALF, 0, 4),
    line('South Canopy', salSouthCanopy, HALF, 0, 4),
    line('Outside Surface', salOutsideSurface, HALF, 0, 4),
    line('Outside Bottom', salOutsideBottom, QUARTER, 0, 4),
    line('Average salinity', salAverage, QUARTER, 0, 2),
    // temperature
    line('North Canopy', tmpNorthCanopy, HALF, 1, 4),
    line('Middle Canopy', tmpMiddleCanopy, HALF, 1, 4),
    line('Middle Mid-water', tmpMiddleMid, HALF, 1, 4),
    line('Middle Bottom', tmpMiddleBottom, HALF, 1, 4),
    line('South Canopy', tmpSouthCanopy, QUARTER, 1, 4),
    line('Outside Surface', tmpOutsideSurface, HALF, 1, 4),
    line('Outside Bottom', tmpOutsideBottom, QUARTER, 1, 3.5)
];

var axisLine = { show: true, lineStyle: { color: '#222', width: 1.5 } };
var axisTick = { show: true, length: 5, lineStyle: { color: '#222', width: 1.5 } };

function xLabel(v) {
    var k = v / 15;
    return (Math.round(k) === k && xTickLabels[k]) ? xTickLabels[k] : '';
}

var myChart = echarts.init(document.getElementById('chart'));

option = {
    backgroundColor: '#fff',
    animation: false,
    textStyle: { fontFamily: font },
    grid: [
        { left: 94, right: 5, top: 15, height: 484 },
        { left: 94, right: 5, top: 521, height: 422 }
    ],
    legend: {
        orient: 'vertical',
        left: 1017,
        top: 253,
        icon: 'rect',
        itemWidth: 28,
        itemHeight: 10,
        itemGap: 8.4,
        data: names,
        textStyle: { fontSize: 21, color: '#111', fontFamily: font, padding: [0, 0, 0, 3] },
        selectedMode: false
    },
    xAxis: [
        {
            type: 'value', gridIndex: 0, min: 0, max: 114, interval: 15,
            axisLine: axisLine, axisTick: axisTick,
            axisLabel: { show: false }, splitLine: { show: false }
        },
        {
            type: 'value', gridIndex: 1, min: 0, max: 114, interval: 15,
            axisLine: axisLine, axisTick: axisTick,
            axisLabel: { formatter: xLabel, fontSize: 18, color: '#111', margin: 13, showMaxLabel: false },
            splitLine: { show: false }
        }
    ],
    yAxis: [
        {
            type: 'value', gridIndex: 0, min: 20, max: 32, interval: 2,
            axisLine: axisLine, axisTick: axisTick,
            axisLabel: { fontSize: 18, color: '#111', margin: 8 },
            splitLine: { show: false }
        },
        {
            type: 'value', gridIndex: 1, min: 8, max: 18, interval: 2,
            axisLine: axisLine, axisTick: axisTick,
            axisLabel: { fontSize: 18, color: '#111', margin: 8 },
            splitLine: { show: false }
        }
    ],
    graphic: [
        { type: 'line', shape: { x1: 57, y1: 0, x2: 57, y2: 982 }, style: { stroke: '#d8d8d8', lineWidth: 1.5 } },
        { type: 'text', x: 25, y: 268, rotation: Math.PI / 2,
          style: { text: 'Salinity (PSU)', fontSize: 31, fill: '#111', fontFamily: font, align: 'center', verticalAlign: 'middle' } },
        { type: 'text', x: 31, y: 730, rotation: Math.PI / 2,
          style: { text: 'Temperature °C', fontSize: 31, fill: '#111', fontFamily: font, align: 'center', verticalAlign: 'middle' } },
        { type: 'text', left: 100, top: 17, style: { text: '(A)', fontSize: 30, fill: '#111', fontFamily: font } },
        { type: 'text', left: 108, top: 523, style: { text: '(B)', fontSize: 30, fill: '#111', fontFamily: font } }
    ],
    series: series
};

myChart.setOption(option);
</script>
</body>
</html>
